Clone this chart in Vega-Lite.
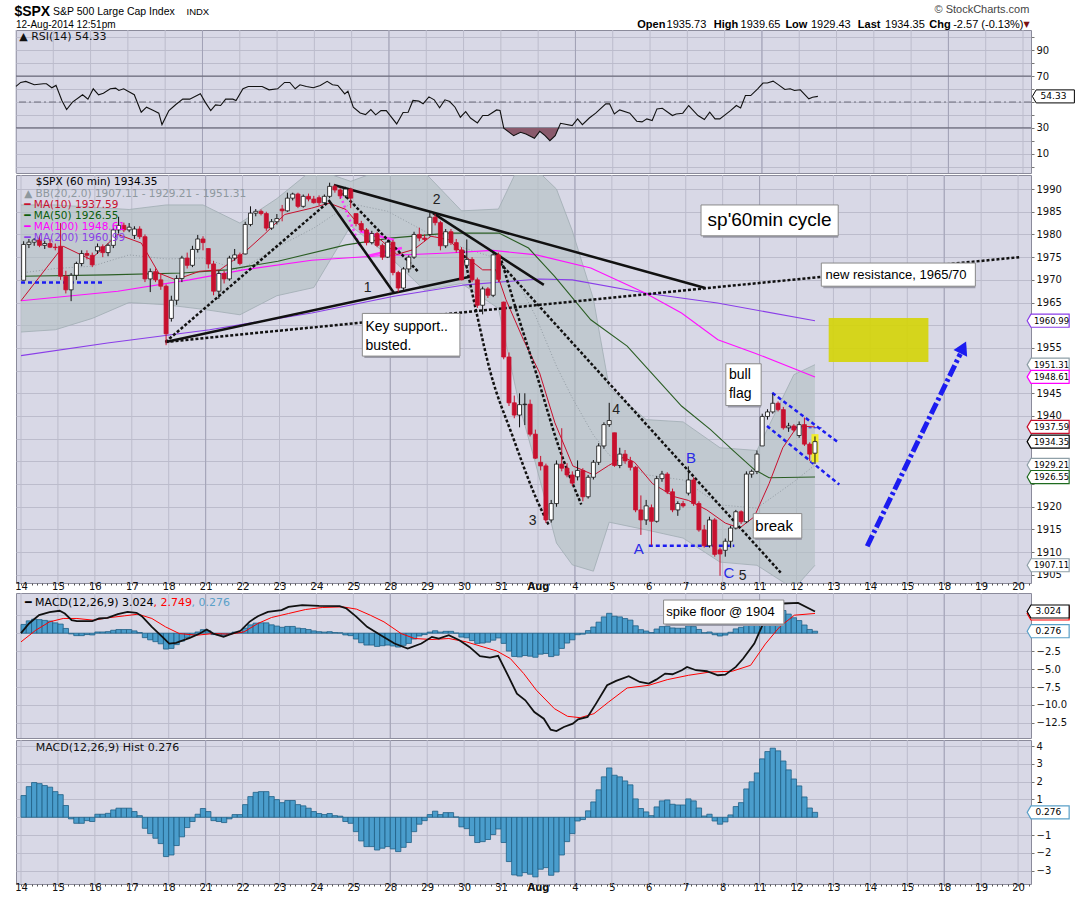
{
  "$schema": "https://vega.github.io/schema/vega-lite/v6.json",
  "padding": {"left": 13, "top": 3, "right": 0, "bottom": 0},
  "background": "white",
  "spacing": 0,
  "resolve": {"scale": {"color": "independent", "stroke": "independent"}},
  "config": {
    "view": {"stroke": "#8b8b9b", "fill": "#d8d8e6"},
    "axis": {"labelFont": "DejaVu Sans", "labelFontSize": 10, "labelColor": "#111111", "gridColor": "#bcbccc", "tickColor": "#777777", "domain": false},
    "text": {"font": "Liberation Sans"}
  },
  "datasets": {
    "days": [{"b":0},{"b":7},{"b":14},{"b":21},{"b":28},{"b":35},{"b":42},{"b":49},{"b":56},{"b":63},{"b":70},{"b":77},{"b":84},{"b":91},{"b":98},{"b":105},{"b":112},{"b":119},{"b":126},{"b":133},{"b":140},{"b":147},{"b":154},{"b":161},{"b":168},{"b":175},{"b":182},{"b":189}],
    "weeks": [{"b":35},{"b":70},{"b":105},{"b":140},{"b":175}],
    "candles": [
      {"b":0.5,"o":1969.9,"h":1978.5,"l":1969.9,"c":1977.8},{"b":1.5,"o":1977.8,"h":1979.0,"l":1977.0,"c":1978.3},{"b":2.5,"o":1978.3,"h":1979.2,"l":1977.5,"c":1978.8},{"b":3.5,"o":1978.8,"h":1979.8,"l":1977.2,"c":1977.6},{"b":4.5,"o":1977.6,"h":1978.6,"l":1976.8,"c":1978.0},{"b":5.5,"o":1978.0,"h":1979.0,"l":1977.0,"c":1977.2},{"b":6.5,"o":1977.2,"h":1978.0,"l":1976.5,"c":1977.1},
      {"b":7.5,"o":1977.4,"h":1982.5,"l":1970.0,"c":1970.8},{"b":8.5,"o":1970.8,"h":1972.0,"l":1967.0,"c":1967.8},{"b":9.5,"o":1967.8,"h":1971.5,"l":1965.3,"c":1971.0},{"b":10.5,"o":1971.0,"h":1974.0,"l":1970.0,"c":1973.6},{"b":11.5,"o":1973.6,"h":1976.5,"l":1973.0,"c":1975.8},{"b":12.5,"o":1975.8,"h":1976.5,"l":1974.5,"c":1975.4},{"b":13.5,"o":1975.4,"h":1976.0,"l":1972.8,"c":1973.3},
      {"b":14.5,"o":1976.4,"h":1978.0,"l":1975.7,"c":1977.3},{"b":15.5,"o":1977.3,"h":1977.8,"l":1975.0,"c":1976.0},{"b":16.5,"o":1976.0,"h":1978.0,"l":1975.2,"c":1977.6},{"b":17.5,"o":1977.6,"h":1981.5,"l":1977.0,"c":1981.0},{"b":18.5,"o":1981.0,"h":1983.9,"l":1980.2,"c":1982.0},{"b":19.5,"o":1982.0,"h":1982.6,"l":1980.5,"c":1981.0},{"b":20.5,"o":1981.0,"h":1982.5,"l":1980.5,"c":1981.6},
      {"b":21.5,"o":1979.8,"h":1981.8,"l":1979.0,"c":1981.2},{"b":22.5,"o":1981.2,"h":1981.8,"l":1979.0,"c":1979.5},{"b":23.5,"o":1979.5,"h":1980.0,"l":1969.5,"c":1970.2},{"b":24.5,"o":1970.2,"h":1972.5,"l":1967.3,"c":1971.8},{"b":25.5,"o":1971.8,"h":1972.5,"l":1969.5,"c":1970.0},{"b":26.5,"o":1970.0,"h":1971.5,"l":1967.8,"c":1968.6},{"b":27.5,"o":1968.6,"h":1969.0,"l":1955.6,"c":1958.1},
      {"b":28.5,"o":1961.5,"h":1966.5,"l":1960.8,"c":1965.5},{"b":29.5,"o":1965.5,"h":1971.0,"l":1964.5,"c":1970.3},{"b":30.5,"o":1970.3,"h":1975.3,"l":1969.5,"c":1974.8},{"b":31.5,"o":1974.8,"h":1976.0,"l":1972.5,"c":1973.2},{"b":32.5,"o":1973.2,"h":1977.5,"l":1972.8,"c":1976.7},{"b":33.5,"o":1976.7,"h":1979.9,"l":1976.0,"c":1979.0},{"b":34.5,"o":1979.0,"h":1979.6,"l":1976.5,"c":1978.2},
      {"b":35.5,"o":1976.9,"h":1976.9,"l":1972.5,"c":1973.5},{"b":36.5,"o":1973.5,"h":1974.2,"l":1966.6,"c":1967.5},{"b":37.5,"o":1967.5,"h":1972.0,"l":1965.8,"c":1971.4},{"b":38.5,"o":1971.4,"h":1972.0,"l":1969.2,"c":1970.2},{"b":39.5,"o":1970.2,"h":1975.3,"l":1969.8,"c":1974.8},{"b":40.5,"o":1974.8,"h":1976.8,"l":1974.2,"c":1975.5},{"b":41.5,"o":1975.5,"h":1976.0,"l":1973.2,"c":1973.6},
      {"b":42.5,"o":1975.7,"h":1982.8,"l":1975.6,"c":1982.2},{"b":43.5,"o":1982.2,"h":1986.2,"l":1981.8,"c":1984.7},{"b":44.5,"o":1984.7,"h":1985.6,"l":1984.0,"c":1985.1},{"b":45.5,"o":1985.1,"h":1985.5,"l":1984.2,"c":1984.6},{"b":46.5,"o":1984.6,"h":1985.0,"l":1980.8,"c":1981.4},{"b":47.5,"o":1981.4,"h":1983.4,"l":1981.0,"c":1982.8},{"b":48.5,"o":1982.8,"h":1984.5,"l":1982.2,"c":1983.5},
      {"b":49.5,"o":1985.6,"h":1986.5,"l":1982.9,"c":1985.2},{"b":50.5,"o":1985.2,"h":1989.2,"l":1985.0,"c":1988.0},{"b":51.5,"o":1988.0,"h":1989.2,"l":1987.5,"c":1988.9},{"b":52.5,"o":1988.9,"h":1989.2,"l":1985.8,"c":1986.2},{"b":53.5,"o":1986.2,"h":1988.8,"l":1985.9,"c":1988.4},{"b":54.5,"o":1988.4,"h":1989.0,"l":1987.3,"c":1987.8},{"b":55.5,"o":1987.8,"h":1988.5,"l":1986.8,"c":1987.0},
      {"b":56.5,"o":1988.1,"h":1988.6,"l":1986.4,"c":1987.0},{"b":57.5,"o":1987.0,"h":1988.8,"l":1986.5,"c":1988.4},{"b":58.5,"o":1988.4,"h":1991.4,"l":1988.0,"c":1990.6},{"b":59.5,"o":1990.6,"h":1991.0,"l":1989.2,"c":1989.8},{"b":60.5,"o":1989.8,"h":1990.2,"l":1987.8,"c":1988.5},{"b":61.5,"o":1988.5,"h":1990.5,"l":1988.0,"c":1990.0},{"b":62.5,"o":1990.0,"h":1990.3,"l":1985.8,"c":1988.0},
      {"b":63.5,"o":1984.6,"h":1984.6,"l":1981.8,"c":1982.4},{"b":64.5,"o":1982.4,"h":1983.0,"l":1980.6,"c":1981.0},{"b":65.5,"o":1981.0,"h":1981.4,"l":1977.6,"c":1978.2},{"b":66.5,"o":1978.2,"h":1980.8,"l":1977.8,"c":1980.2},{"b":67.5,"o":1980.2,"h":1980.6,"l":1977.2,"c":1977.6},{"b":68.5,"o":1977.6,"h":1978.0,"l":1974.4,"c":1975.0},{"b":69.5,"o":1975.0,"h":1978.8,"l":1974.8,"c":1978.3},
      {"b":70.5,"o":1978.3,"h":1978.8,"l":1971.0,"c":1971.6},{"b":71.5,"o":1971.6,"h":1972.0,"l":1967.3,"c":1968.2},{"b":72.5,"o":1968.2,"h":1972.8,"l":1967.8,"c":1972.4},{"b":73.5,"o":1972.4,"h":1975.4,"l":1971.6,"c":1975.0},{"b":74.5,"o":1975.0,"h":1980.6,"l":1974.6,"c":1980.0},{"b":75.5,"o":1980.0,"h":1981.5,"l":1978.5,"c":1979.2},{"b":76.5,"o":1979.2,"h":1980.0,"l":1978.4,"c":1978.9},
      {"b":77.5,"o":1980.0,"h":1984.8,"l":1979.6,"c":1983.8},{"b":78.5,"o":1983.8,"h":1984.5,"l":1982.0,"c":1982.6},{"b":79.5,"o":1982.6,"h":1983.0,"l":1976.5,"c":1977.5},{"b":80.5,"o":1977.5,"h":1981.2,"l":1977.0,"c":1980.6},{"b":81.5,"o":1980.6,"h":1981.2,"l":1977.7,"c":1978.2},{"b":82.5,"o":1978.2,"h":1979.0,"l":1976.0,"c":1976.6},{"b":83.5,"o":1976.6,"h":1977.2,"l":1969.9,"c":1970.0},
      {"b":84.5,"o":1973.2,"h":1978.9,"l":1972.4,"c":1974.5},{"b":85.5,"o":1974.5,"h":1975.0,"l":1969.5,"c":1970.0},{"b":86.5,"o":1970.0,"h":1970.5,"l":1963.8,"c":1964.4},{"b":87.5,"o":1964.4,"h":1968.5,"l":1962.4,"c":1968.0},{"b":88.5,"o":1968.0,"h":1968.4,"l":1966.0,"c":1966.6},{"b":89.5,"o":1966.6,"h":1976.0,"l":1966.2,"c":1975.5},{"b":90.5,"o":1975.5,"h":1976.0,"l":1969.5,"c":1970.1},
      {"b":91.5,"o":1965.1,"h":1965.2,"l":1952.5,"c":1953.0},{"b":92.5,"o":1953.0,"h":1954.0,"l":1942.2,"c":1942.9},{"b":93.5,"o":1942.9,"h":1944.5,"l":1939.5,"c":1940.2},{"b":94.5,"o":1940.2,"h":1945.0,"l":1937.5,"c":1942.5},{"b":95.5,"o":1942.5,"h":1945.0,"l":1938.0,"c":1942.6},{"b":96.5,"o":1942.6,"h":1943.6,"l":1935.5,"c":1936.0},{"b":97.5,"o":1936.0,"h":1937.0,"l":1930.5,"c":1930.7},
      {"b":98.5,"o":1929.8,"h":1931.2,"l":1928.0,"c":1929.0},{"b":99.5,"o":1929.0,"h":1929.5,"l":1916.4,"c":1917.1},{"b":100.5,"o":1917.1,"h":1921.5,"l":1916.5,"c":1920.7},{"b":101.5,"o":1920.7,"h":1930.2,"l":1920.0,"c":1929.4},{"b":102.5,"o":1929.4,"h":1937.3,"l":1927.8,"c":1928.5},{"b":103.5,"o":1928.5,"h":1929.6,"l":1926.5,"c":1927.0},{"b":104.5,"o":1927.0,"h":1927.8,"l":1924.6,"c":1925.2},
      {"b":105.5,"o":1926.6,"h":1930.2,"l":1925.8,"c":1928.0},{"b":106.5,"o":1928.0,"h":1928.5,"l":1921.2,"c":1922.2},{"b":107.5,"o":1922.2,"h":1927.0,"l":1921.8,"c":1926.5},{"b":108.5,"o":1926.5,"h":1930.3,"l":1926.0,"c":1929.8},{"b":109.5,"o":1929.8,"h":1934.0,"l":1929.2,"c":1933.4},{"b":110.5,"o":1933.4,"h":1938.6,"l":1932.8,"c":1938.1},{"b":111.5,"o":1938.1,"h":1942.9,"l":1937.6,"c":1939.0},
      {"b":112.5,"o":1936.3,"h":1936.3,"l":1928.8,"c":1929.1},{"b":113.5,"o":1929.1,"h":1933.0,"l":1928.5,"c":1931.6},{"b":114.5,"o":1931.6,"h":1932.5,"l":1929.5,"c":1930.1},{"b":115.5,"o":1930.1,"h":1931.0,"l":1928.0,"c":1928.7},{"b":116.5,"o":1928.7,"h":1929.0,"l":1918.8,"c":1919.3},{"b":117.5,"o":1919.3,"h":1922.5,"l":1913.8,"c":1917.1},{"b":118.5,"o":1917.1,"h":1921.5,"l":1916.0,"c":1920.2},
      {"b":119.5,"o":1919.8,"h":1920.5,"l":1911.5,"c":1916.8},{"b":120.5,"o":1916.8,"h":1926.8,"l":1916.5,"c":1926.2},{"b":121.5,"o":1926.2,"h":1927.9,"l":1925.5,"c":1927.2},{"b":122.5,"o":1927.2,"h":1927.6,"l":1922.8,"c":1923.3},{"b":123.5,"o":1923.3,"h":1924.0,"l":1918.8,"c":1919.3},{"b":124.5,"o":1919.3,"h":1921.2,"l":1918.0,"c":1920.7},{"b":125.5,"o":1920.7,"h":1921.3,"l":1919.8,"c":1920.2},
      {"b":126.5,"o":1923.0,"h":1928.9,"l":1922.5,"c":1925.9},{"b":127.5,"o":1925.9,"h":1926.5,"l":1920.2,"c":1920.7},{"b":128.5,"o":1920.7,"h":1921.2,"l":1914.5,"c":1914.9},{"b":129.5,"o":1914.9,"h":1916.0,"l":1911.0,"c":1911.4},{"b":130.5,"o":1911.4,"h":1917.8,"l":1911.0,"c":1917.1},{"b":131.5,"o":1917.1,"h":1917.5,"l":1909.0,"c":1909.5},{"b":132.5,"o":1910.5,"h":1911.0,"l":1904.8,"c":1909.6},
      {"b":133.5,"o":1910.4,"h":1913.0,"l":1909.0,"c":1912.4},{"b":134.5,"o":1912.4,"h":1915.8,"l":1911.0,"c":1915.3},{"b":135.5,"o":1915.3,"h":1919.3,"l":1915.0,"c":1918.9},{"b":136.5,"o":1918.9,"h":1919.2,"l":1916.2,"c":1916.7},{"b":137.5,"o":1916.7,"h":1927.8,"l":1916.4,"c":1927.2},{"b":138.5,"o":1927.2,"h":1928.2,"l":1926.4,"c":1927.8},{"b":139.5,"o":1927.8,"h":1932.4,"l":1927.2,"c":1931.6},
      {"b":140.5,"o":1933.4,"h":1940.5,"l":1933.4,"c":1939.9},{"b":141.5,"o":1939.9,"h":1941.5,"l":1939.2,"c":1940.9},{"b":142.5,"o":1940.9,"h":1944.9,"l":1940.5,"c":1942.8},{"b":143.5,"o":1942.8,"h":1943.2,"l":1941.0,"c":1941.4},{"b":144.5,"o":1941.4,"h":1942.0,"l":1937.0,"c":1937.4},{"b":145.5,"o":1937.4,"h":1938.5,"l":1936.5,"c":1937.8},{"b":146.5,"o":1937.8,"h":1938.2,"l":1936.5,"c":1936.9},
      {"b":147.5,"o":1935.7,"h":1938.8,"l":1935.2,"c":1938.1},{"b":148.5,"o":1938.1,"h":1939.65,"l":1933.4,"c":1933.8},{"b":149.5,"o":1933.8,"h":1934.2,"l":1930.1,"c":1931.6},{"b":150.5,"o":1931.8,"h":1935.5,"l":1929.43,"c":1934.35}
    ],
    "bb": [
      {"b":0,"lo":1958.5,"mid":1971.5,"hi":1986.5},{"b":6.5,"lo":1959.0,"mid":1972.5,"hi":1986.5},{"b":13.5,"lo":1961.5,"mid":1973.0,"hi":1986.0},{"b":20.5,"lo":1965.0,"mid":1975.5,"hi":1985.5},{"b":27.5,"lo":1964.5,"mid":1974.6,"hi":1986.5},{"b":34.5,"lo":1963.5,"mid":1974.8,"hi":1986.5},{"b":41.5,"lo":1962.3,"mid":1972.1,"hi":1982.5},{"b":48.5,"lo":1966.5,"mid":1977.2,"hi":1987.9},{"b":55.5,"lo":1968.3,"mid":1981.4,"hi":1994.5},{"b":62.5,"lo":1981.9,"mid":1986.8,"hi":1991.7},{"b":69.5,"lo":1975.5,"mid":1985.1,"hi":1994.7},{"b":76.5,"lo":1967.7,"mid":1980.7,"hi":1993.7},{"b":83.5,"lo":1969.2,"mid":1977.2,"hi":1985.2},{"b":90.5,"lo":1963.7,"mid":1974.6,"hi":1985.6},{"b":94.5,"lo":1942.2,"mid":1968.8,"hi":1995.4},{"b":97.5,"lo":1929.7,"mid":1962.1,"hi":1994.5},{"b":101.5,"lo":1912.0,"mid":1951.0,"hi":1990.0},{"b":104.5,"lo":1907.2,"mid":1944.0,"hi":1980.8},{"b":108.5,"lo":1905.8,"mid":1935.8,"hi":1965.8},{"b":111.5,"lo":1916.6,"mid":1931.4,"hi":1946.2},{"b":118.5,"lo":1914.9,"mid":1927.05,"hi":1939.2},{"b":125.5,"lo":1913.1,"mid":1925.9,"hi":1938.7},{"b":132.5,"lo":1907.8,"mid":1920.4,"hi":1933.0},{"b":139.5,"lo":1907.1,"mid":1919.7,"hi":1932.4},{"b":146.5,"lo":1901.9,"mid":1925.5,"hi":1949.1},{"b":150.5,"lo":1907.11,"mid":1929.21,"hi":1951.31}
    ],
    "ma10": [{"b":0,"v":1965.4},{"b":8.0,"v":1977.4},{"b":13.2,"v":1974.5},{"b":18.35,"v":1980.0},{"b":22.8,"v":1978.1},{"b":26.1,"v":1971.5},{"b":29.3,"v":1970.0},{"b":33.9,"v":1971.9},{"b":37.7,"v":1972.2},{"b":42.2,"v":1975.9},{"b":46.1,"v":1980.0},{"b":50.0,"v":1984.4},{"b":55.1,"v":1985.8},{"b":58.4,"v":1986.9},{"b":61.6,"v":1985.5},{"b":64.8,"v":1981.1},{"b":68.1,"v":1978.9},{"b":71.25,"v":1975.6},{"b":74.5,"v":1976.7},{"b":77.7,"v":1979.6},{"b":81.0,"v":1978.9},{"b":84.2,"v":1975.2},{"b":87.5,"v":1972.2},{"b":90.0,"v":1972.2},{"b":91.9,"v":1965.7},{"b":95.2,"v":1956.9},{"b":98.3,"v":1949.5},{"b":101.2,"v":1938.5},{"b":104.6,"v":1929.0},{"b":108.6,"v":1927.0},{"b":111.4,"v":1929.1},{"b":114.2,"v":1930.9},{"b":116.3,"v":1929.8},{"b":119.7,"v":1925.1},{"b":123.9,"v":1922.2},{"b":126.5,"v":1921.4},{"b":130.0,"v":1919.3},{"b":133.5,"v":1916.4},{"b":136.2,"v":1915.3},{"b":139.0,"v":1917.8},{"b":141.8,"v":1925.1},{"b":144.4,"v":1933.0},{"b":147.2,"v":1937.8},{"b":150.5,"v":1937.59}],
    "ma50": [{"b":0,"v":1970.8},{"b":16.4,"v":1971.1},{"b":30.6,"v":1971.5},{"b":39.0,"v":1972.2},{"b":48.7,"v":1974.1},{"b":61.6,"v":1977.7},{"b":70.0,"v":1979.2},{"b":81.0,"v":1980.3},{"b":90.6,"v":1980.3},{"b":96.2,"v":1977.0},{"b":101.1,"v":1970.8},{"b":108.0,"v":1961.2},{"b":114.9,"v":1955.4},{"b":125.2,"v":1942.2},{"b":130.7,"v":1937.0},{"b":134.8,"v":1932.6},{"b":139.0,"v":1928.2},{"b":141.8,"v":1926.4},{"b":150.5,"v":1926.55}],
    "ma100": [{"b":0,"v":1965.4},{"b":18.35,"v":1967.5},{"b":31.9,"v":1970.0},{"b":42.2,"v":1972.2},{"b":55.1,"v":1974.3},{"b":68.1,"v":1975.3},{"b":81.0,"v":1975.9},{"b":89.35,"v":1976.5},{"b":97.7,"v":1975.5},{"b":108.0,"v":1972.6},{"b":118.3,"v":1967.1},{"b":125.2,"v":1962.7},{"b":132.1,"v":1956.8},{"b":139.0,"v":1953.9},{"b":150.5,"v":1948.61}],
    "ma200": [{"b":0,"v":1953.3},{"b":16.4,"v":1956.1},{"b":35.75,"v":1959.0},{"b":55.1,"v":1962.7},{"b":70.7,"v":1966.4},{"b":84.3,"v":1968.9},{"b":98.3,"v":1970.2},{"b":104.5,"v":1970.0},{"b":118.3,"v":1967.1},{"b":132.0,"v":1964.9},{"b":150.5,"v":1960.99}],
    "rsi": [{"b":0,"v":62.0},{"b":0.88,"v":65.1},{"b":1.84,"v":65.9},{"b":3.43,"v":63.3},{"b":5.13,"v":64.1},{"b":5.72,"v":64.1},{"b":6.72,"v":61.0},{"b":7.51,"v":62.8},{"b":8.61,"v":51.2},{"b":9.5,"v":44.2},{"b":10.6,"v":49.9},{"b":12.5,"v":55.6},{"b":13.5,"v":52.2},{"b":14.5,"v":60.2},{"b":15.5,"v":55.6},{"b":16.4,"v":56.8},{"b":17.7,"v":60.2},{"b":18.7,"v":60.7},{"b":19.3,"v":58.9},{"b":20.2,"v":60.2},{"b":22.2,"v":55.6},{"b":23.5,"v":42.1},{"b":24.5,"v":46.0},{"b":25.8,"v":43.4},{"b":26.8,"v":41.4},{"b":27.4,"v":32.6},{"b":28.7,"v":43.4},{"b":30.0,"v":48.1},{"b":31.3,"v":52.2},{"b":32.6,"v":52.2},{"b":34.6,"v":56.3},{"b":35.5,"v":49.9},{"b":36.55,"v":43.4},{"b":37.45,"v":47.8},{"b":38.4,"v":47.3},{"b":39.35,"v":52.2},{"b":40.7,"v":52.2},{"b":41.3,"v":51.2},{"b":42.6,"v":60.2},{"b":43.6,"v":62.0},{"b":46.2,"v":62.0},{"b":47.5,"v":59.4},{"b":49.1,"v":60.2},{"b":50.4,"v":65.1},{"b":51.4,"v":65.1},{"b":52.4,"v":60.2},{"b":53.3,"v":63.3},{"b":54.5,"v":62.0},{"b":55.8,"v":61.0},{"b":57.1,"v":62.8},{"b":58.4,"v":65.9},{"b":59.4,"v":63.3},{"b":60.4,"v":62.8},{"b":61.7,"v":56.3},{"b":62.3,"v":58.4},{"b":63.3,"v":46.0},{"b":64.6,"v":41.6},{"b":65.6,"v":40.3},{"b":66.6,"v":44.2},{"b":67.5,"v":40.1},{"b":68.5,"v":43.4},{"b":69.5,"v":43.4},{"b":71.45,"v":33.1},{"b":72.65,"v":41.9},{"b":73.6,"v":42.1},{"b":74.5,"v":51.2},{"b":75.6,"v":50.7},{"b":76.4,"v":48.6},{"b":77.5,"v":54.0},{"b":78.5,"v":51.7},{"b":79.5,"v":45.5},{"b":80.5,"v":51.7},{"b":81.4,"v":50.4},{"b":82.4,"v":46.0},{"b":83.4,"v":38.3},{"b":84.4,"v":42.6},{"b":85.3,"v":37.7},{"b":86.6,"v":33.9},{"b":87.6,"v":39.6},{"b":88.6,"v":39.6},{"b":90.2,"v":43.9},{"b":90.85,"v":43.4},{"b":91.55,"v":29.8},{"b":93.4,"v":24.1},{"b":94.7,"v":26.7},{"b":95.7,"v":25.4},{"b":97.3,"v":22.0},{"b":98.3,"v":27.4},{"b":99.3,"v":24.1},{"b":100.2,"v":20.2},{"b":101.2,"v":24.1},{"b":102.2,"v":33.6},{"b":104.4,"v":31.8},{"b":105.4,"v":37.0},{"b":106.3,"v":32.6},{"b":107.6,"v":37.7},{"b":108.8,"v":41.4},{"b":110.7,"v":48.6},{"b":111.4,"v":48.6},{"b":112.3,"v":40.8},{"b":113.3,"v":43.9},{"b":115.2,"v":41.4},{"b":116.5,"v":35.2},{"b":117.5,"v":34.7},{"b":118.4,"v":37.0},{"b":119.4,"v":35.7},{"b":120.3,"v":44.7},{"b":121.3,"v":45.2},{"b":123.2,"v":39.6},{"b":123.9,"v":40.8},{"b":125.15,"v":41.4},{"b":126.25,"v":47.3},{"b":128.0,"v":39.6},{"b":129.2,"v":36.5},{"b":130.2,"v":42.1},{"b":131.2,"v":37.0},{"b":132.1,"v":37.0},{"b":134.1,"v":43.4},{"b":135.2,"v":47.3},{"b":136.0,"v":45.5},{"b":136.9,"v":55.0},{"b":137.9,"v":55.0},{"b":139.2,"v":60.2},{"b":140.2,"v":64.6},{"b":141.0,"v":64.6},{"b":142.1,"v":66.1},{"b":143.0,"v":63.6},{"b":144.3,"v":59.7},{"b":145.3,"v":60.2},{"b":146.1,"v":58.9},{"b":147.2,"v":59.4},{"b":148.8,"v":52.5},{"b":149.5,"v":53.7},{"b":150.5,"v":54.33}],
    "rsilow": [{"b":91.45,"v":30},{"b":91.55,"v":29.8},{"b":93.4,"v":24.1},{"b":94.7,"v":26.7},{"b":95.7,"v":25.4},{"b":97.3,"v":22.0},{"b":98.3,"v":27.4},{"b":99.3,"v":24.1},{"b":100.2,"v":20.2},{"b":101.2,"v":24.1},{"b":101.85,"v":30}],
    "macd": [{"b":0,"v":0.0},{"b":1.53,"v":1.35},{"b":3.43,"v":2.51},{"b":5.42,"v":2.93},{"b":7.31,"v":3.12},{"b":8.31,"v":2.74},{"b":9.6,"v":1.81},{"b":10.6,"v":1.67},{"b":13.5,"v":1.67},{"b":14.8,"v":2.05},{"b":16.4,"v":2.14},{"b":18.35,"v":2.65},{"b":20.2,"v":2.98},{"b":21.9,"v":2.84},{"b":22.9,"v":2.37},{"b":24.8,"v":0.88},{"b":26.8,"v":-0.51},{"b":28.1,"v":-1.44},{"b":29.4,"v":-1.35},{"b":32.0,"v":-0.65},{"b":33.9,"v":-0.05},{"b":35.2,"v":0.51},{"b":36.45,"v":-0.05},{"b":38.4,"v":-0.51},{"b":40.0,"v":-0.05},{"b":41.6,"v":0.33},{"b":43.3,"v":1.58},{"b":44.9,"v":2.37},{"b":46.8,"v":2.98},{"b":49.4,"v":3.21},{"b":50.7,"v":3.67},{"b":53.3,"v":3.91},{"b":56.5,"v":3.81},{"b":60.4,"v":3.77},{"b":61.7,"v":3.44},{"b":63.6,"v":2.28},{"b":65.6,"v":0.88},{"b":68.2,"v":-0.28},{"b":70.8,"v":-1.44},{"b":73.3,"v":-2.14},{"b":75.9,"v":-1.44},{"b":77.9,"v":-0.51},{"b":79.2,"v":-0.74},{"b":81.1,"v":-0.28},{"b":83.1,"v":-0.98},{"b":85.0,"v":-1.91},{"b":87.0,"v":-3.21},{"b":88.9,"v":-3.40},{"b":90.45,"v":-3.16},{"b":92.45,"v":-6.09},{"b":94.0,"v":-8.42},{"b":95.6,"v":-9.35},{"b":97.3,"v":-10.98},{"b":99.1,"v":-11.91},{"b":100.4,"v":-13.44},{"b":101.5,"v":-13.63},{"b":102.9,"v":-13.07},{"b":104.6,"v":-12.6},{"b":105.6,"v":-12.0},{"b":107.4,"v":-11.67},{"b":109.0,"v":-9.81},{"b":111.1,"v":-7.26},{"b":112.8,"v":-6.65},{"b":115.2,"v":-6.0},{"b":117.3,"v":-6.79},{"b":119.0,"v":-7.02},{"b":120.4,"v":-6.47},{"b":122.1,"v":-5.63},{"b":123.5,"v":-5.72},{"b":125.25,"v":-5.16},{"b":126.25,"v":-4.70},{"b":127.95,"v":-5.16},{"b":130.0,"v":-5.30},{"b":132.1,"v":-5.86},{"b":133.5,"v":-5.77},{"b":135.5,"v":-4.70},{"b":136.9,"v":-3.53},{"b":139.0,"v":-1.44},{"b":140.4,"v":0.88},{"b":141.8,"v":3.21},{"b":144.5,"v":4.14},{"b":147.3,"v":4.23},{"b":150.5,"v":3.024}],
    "signal": [{"b":0,"v":-1.21},{"b":2.8,"v":0.42},{"b":5.42,"v":1.58},{"b":8.0,"v":2.05},{"b":10.6,"v":2.05},{"b":13.8,"v":1.81},{"b":16.4,"v":2.14},{"b":19.65,"v":2.42},{"b":22.2,"v":2.65},{"b":24.8,"v":2.05},{"b":27.4,"v":0.88},{"b":30.0,"v":-0.05},{"b":33.3,"v":-0.28},{"b":36.45,"v":-0.05},{"b":39.7,"v":-0.14},{"b":42.3,"v":0.19},{"b":44.9,"v":1.35},{"b":47.5,"v":2.19},{"b":50.7,"v":2.74},{"b":53.95,"v":3.30},{"b":57.1,"v":3.58},{"b":61.0,"v":3.67},{"b":63.6,"v":3.35},{"b":66.2,"v":2.51},{"b":68.8,"v":1.58},{"b":72.05,"v":-0.05},{"b":74.6,"v":-0.74},{"b":77.9,"v":-0.88},{"b":81.1,"v":-0.74},{"b":84.4,"v":-1.21},{"b":87.6,"v":-1.91},{"b":90.15,"v":-2.47},{"b":92.75,"v":-3.53},{"b":95.3,"v":-5.63},{"b":97.7,"v":-7.95},{"b":101.1,"v":-10.51},{"b":103.6,"v":-11.58},{"b":106.0,"v":-11.77},{"b":108.6,"v":-11.21},{"b":111.4,"v":-9.58},{"b":114.9,"v":-7.63},{"b":119.0,"v":-7.26},{"b":122.5,"v":-6.47},{"b":126.55,"v":-5.86},{"b":130.7,"v":-5.40},{"b":134.8,"v":-5.30},{"b":138.3,"v":-4.47},{"b":141.1,"v":-1.5},{"b":143.8,"v":0.88},{"b":146.6,"v":2.51},{"b":150.5,"v":2.749}],
    "hist": [
      {"b":0.5,"h":1.22},{"b":1.5,"h":1.72},{"b":2.5,"h":1.95},{"b":3.5,"h":1.89},{"b":4.5,"h":1.78},{"b":5.5,"h":1.69},{"b":6.5,"h":1.44},{"b":7.5,"h":1.27},{"b":8.5,"h":0.66},{"b":9.5,"h":-0.09},
      {"b":10.5,"h":-0.34},{"b":11.5,"h":-0.34},{"b":12.5,"h":-0.19},{"b":13.5,"h":-0.24},{"b":14.5,"h":0.17},{"b":15.5,"h":0.17},{"b":16.5,"h":0.22},{"b":17.5,"h":0.41},{"b":18.5,"h":0.51},{"b":19.5,"h":0.51},
      {"b":20.5,"h":0.51},{"b":21.5,"h":0.32},{"b":22.5,"h":0.09},{"b":23.5,"h":-0.62},{"b":24.5,"h":-0.92},{"b":25.5,"h":-1.18},{"b":26.5,"h":-1.48},{"b":27.5,"h":-2.21},{"b":28.5,"h":-2.12},{"b":29.5,"h":-1.59},
      {"b":30.5,"h":-1.10},{"b":31.5,"h":-0.58},{"b":32.5,"h":-0.24},{"b":33.5,"h":0.17},{"b":34.5,"h":0.49},{"b":35.5,"h":0.32},{"b":36.5,"h":-0.19},{"b":37.5,"h":-0.24},{"b":38.5,"h":-0.30},{"b":39.5,"h":-0.09},
      {"b":40.5,"h":0.15},{"b":41.5,"h":0.15},{"b":42.5,"h":0.71},{"b":43.5,"h":1.16},{"b":44.5,"h":1.40},{"b":45.5,"h":1.44},{"b":46.5,"h":1.44},{"b":47.5,"h":1.16},{"b":48.5,"h":0.99},{"b":49.5,"h":0.82},
      {"b":50.5,"h":0.94},{"b":51.5,"h":0.94},{"b":52.5,"h":0.71},{"b":53.5,"h":0.64},{"b":54.5,"h":0.51},{"b":55.5,"h":0.32},{"b":56.5,"h":0.21},{"b":57.5,"h":0.15},{"b":58.5,"h":0.21},{"b":59.5,"h":0.09},
      {"b":60.5,"h":0.06},{"b":61.5,"h":-0.24},{"b":62.5,"h":-0.34},{"b":63.5,"h":-0.81},{"b":64.5,"h":-1.33},{"b":65.5,"h":-1.65},{"b":66.5,"h":-1.65},{"b":67.5,"h":-1.84},{"b":68.5,"h":-1.74},{"b":69.5,"h":-1.65},
      {"b":70.5,"h":-1.78},{"b":71.5,"h":-1.93},{"b":72.5,"h":-1.69},{"b":73.5,"h":-1.42},{"b":74.5,"h":-0.81},{"b":75.5,"h":-0.39},{"b":76.5,"h":-0.19},{"b":77.5,"h":0.15},{"b":78.5,"h":0.34},{"b":79.5,"h":0.15},
      {"b":80.5,"h":0.26},{"b":81.5,"h":0.26},{"b":82.5,"h":0.02},{"b":83.5,"h":-0.54},{"b":84.5,"h":-0.64},{"b":85.5,"h":-1.03},{"b":86.5,"h":-1.42},{"b":87.5,"h":-1.37},{"b":88.5,"h":-1.25},{"b":89.5,"h":-0.97},
      {"b":90.5,"h":-0.66},{"b":91.5,"h":-1.42},{"b":92.5,"h":-2.49},{"b":93.5,"h":-3.24},{"b":94.5,"h":-3.30},{"b":95.5,"h":-3.11},{"b":96.5,"h":-3.20},{"b":97.5,"h":-3.35},{"b":98.5,"h":-2.92},{"b":99.5,"h":-2.83},
      {"b":100.5,"h":-3.26},{"b":101.5,"h":-3.07},{"b":102.5,"h":-2.12},{"b":103.5,"h":-1.37},{"b":104.5,"h":-0.92},{"b":105.5,"h":-0.21},{"b":106.5,"h":-0.13},{"b":107.5,"h":0.36},{"b":108.5,"h":0.86},{"b":109.5,"h":1.54},
      {"b":110.5,"h":2.27},{"b":111.5,"h":2.77},{"b":112.5,"h":2.36},{"b":113.5,"h":2.27},{"b":114.5,"h":2.04},{"b":115.5,"h":1.82},{"b":116.5,"h":1.03},{"b":117.5,"h":0.49},{"b":118.5,"h":0.30},{"b":119.5,"h":0.09},
      {"b":120.5,"h":0.58},{"b":121.5,"h":0.92},{"b":122.5,"h":0.97},{"b":123.5,"h":0.73},{"b":124.5,"h":0.69},{"b":125.5,"h":0.69},{"b":126.5,"h":1.03},{"b":127.5,"h":0.92},{"b":128.5,"h":0.52},{"b":129.5,"h":0.07},
      {"b":130.5,"h":0.17},{"b":131.5,"h":-0.21},{"b":132.5,"h":-0.39},{"b":133.5,"h":-0.26},{"b":134.5,"h":0.13},{"b":135.5,"h":0.60},{"b":136.5,"h":0.82},{"b":137.5,"h":1.59},{"b":138.5,"h":1.99},{"b":139.5,"h":2.49},
      {"b":140.5,"h":3.28},{"b":141.5,"h":3.69},{"b":142.5,"h":3.88},{"b":143.5,"h":3.73},{"b":144.5,"h":3.16},{"b":145.5,"h":2.66},{"b":146.5,"h":2.15},{"b":147.5,"h":1.76},{"b":148.5,"h":1.14},{"b":149.5,"h":0.52},{"b":150.5,"h":0.276}
    ],
    "solidLines": [{"b":27.4,"b2":85.5,"v":1956.3,"v2":1970.8},{"b":58.3,"b2":70.7,"v":1987.6,"v2":1967.1},{"b":59.3,"b2":129.7,"v":1990.9,"v2":1968.2},{"b":78.1,"b2":99.1,"v":1984.7,"v2":1968.9}],
    "dotLines": [{"b":27.4,"b2":58.0,"v":1956.3,"v2":1986.9},{"b":27.4,"b2":189.2,"v":1956.3,"v2":1975.0},{"b":61.0,"b2":75.2,"v":1989.1,"v2":1971.9},{"b":90.8,"b2":144.0,"v":1973.7,"v2":1905.5}],
    "dotCurves": [{"id":1,"b":83.8,"v":1976.5},{"id":1,"b":86.3,"v":1963.0},{"id":1,"b":88.9,"v":1950.0},{"id":1,"b":93.2,"v":1935.5},{"id":1,"b":97.6,"v":1922.0},{"id":1,"b":100.1,"v":1915.8},{"id":2,"b":90.8,"v":1975.3},{"id":2,"b":94.5,"v":1961.0},{"id":2,"b":97.9,"v":1948.5},{"id":2,"b":101.7,"v":1934.0},{"id":2,"b":106.2,"v":1920.5}],
    "pinkLines": [{"b":64.2,"b2":70.7,"v":1980.7,"v2":1978.8},{"b":65.5,"b2":72.2,"v":1975.2,"v2":1977.0}],
    "blueDash": [{"b":0,"b2":15.4,"v":1969.4,"v2":1969.4},{"b":119.0,"b2":135.2,"v":1911.4,"v2":1911.4},{"b":142.4,"b2":155.1,"v":1945.1,"v2":1934.0},{"b":141.4,"b2":155.1,"v":1937.8,"v2":1924.9}]
  },
  "vconcat": [
    {
      "width": 1015, "height": 143,
      "resolve": {"axis": {"x": "independent", "y": "independent"}},
      "layer": [
        {"data": {"name": "days"}, "mark": {"type": "rule", "color": "#bcbccc"}, "encoding": {"x": {"field": "b", "type": "quantitative", "scale": {"domain": [0, 190.5], "nice": false, "zero": false}, "axis": null}}},
        {"data": {"name": "weeks"}, "mark": {"type": "rule", "color": "#a2a2b6"}, "encoding": {"x": {"field": "b", "type": "quantitative", "scale": {"domain": [0, 190.5], "nice": false, "zero": false}, "axis": null}}},
        {"data": {"values": [{"v": 30}, {"v": 70}]}, "mark": {"type": "rule", "color": "#6c6c7c", "strokeWidth": 1.2},
         "encoding": {"y": {"field": "v", "type": "quantitative", "scale": {"domain": [-4.7, 105.5], "nice": false, "zero": false}, "axis": {"orient": "right", "title": null, "values": [0, 10, 20, 30, 40, 50, 60, 70, 80, 90, 100], "labelExpr": "indexof([10,30,70,90], datum.value) >= 0 ? datum.label : ''", "grid": true, "tickSize": 3, "labelPadding": 2}}}},
        {"data": {"values": [{"v": 50}]}, "mark": {"type": "rule", "color": "#6c6c7c", "strokeWidth": 1, "strokeDash": [7, 3, 2, 3]},
         "encoding": {"y": {"field": "v", "type": "quantitative", "scale": {"domain": [-4.7, 105.5], "nice": false, "zero": false}, "axis": null}}},
        {"data": {"name": "rsilow"}, "mark": {"type": "area", "color": "#8a5a6c"},
         "encoding": {"x": {"field": "b", "type": "quantitative", "scale": {"domain": [0, 190.5], "nice": false, "zero": false}, "axis": null}, "y": {"field": "v", "type": "quantitative", "scale": {"domain": [-4.7, 105.5], "nice": false, "zero": false}, "axis": null}, "y2": {"datum": 30}}},
        {"data": {"name": "rsi"}, "mark": {"type": "line", "color": "#111111", "strokeWidth": 1.1},
         "encoding": {"x": {"field": "b", "type": "quantitative", "scale": {"domain": [0, 190.5], "nice": false, "zero": false}, "axis": null}, "y": {"field": "v", "type": "quantitative", "scale": {"domain": [-4.7, 105.5], "nice": false, "zero": false}, "axis": null}}},
        {"data": {"values": [{"b": 0.6, "v": 100.3, "t": "▲ RSI(14) 54.33"}]}, "mark": {"type": "text", "font": "DejaVu Sans", "fontSize": 11, "align": "left", "baseline": "middle", "color": "#111111"},
         "encoding": {"x": {"field": "b", "type": "quantitative", "scale": {"domain": [0, 190.5], "nice": false, "zero": false}, "axis": null}, "y": {"field": "v", "type": "quantitative", "scale": {"domain": [-4.7, 105.5], "nice": false, "zero": false}, "axis": null}, "text": {"field": "t"}}},
        {"data": {"values": [{"b": -0.3, "v": 119.4, "t": "$SPX"}]},
         "mark": {"type": "text", "fontWeight": "bold", "fontSize": 14, "align": "left", "baseline": "middle", "color": "#000000", "clip": false},
         "encoding": {"x": {"field": "b", "type": "quantitative", "scale": {"domain": [0, 190.5], "nice": false, "zero": false}, "axis": null}, "y": {"field": "v", "type": "quantitative", "scale": {"domain": [-4.7, 105.5], "nice": false, "zero": false}, "axis": null}, "text": {"field": "t"}}},
        {"data": {"values": [{"b": 116.6, "v": 109.4, "t": "Open"}, {"b": 130.96, "v": 109.4, "t": "High"}, {"b": 144.4, "v": 109.4, "t": "Low"}, {"b": 158.0, "v": 109.4, "t": "Last"}, {"b": 171.4, "v": 109.4, "t": "Chg"}]},
         "mark": {"type": "text", "fontWeight": "bold", "fontSize": 11, "align": "left", "baseline": "middle", "color": "#000000", "clip": false},
         "encoding": {"x": {"field": "b", "type": "quantitative", "scale": {"domain": [0, 190.5], "nice": false, "zero": false}, "axis": null}, "y": {"field": "v", "type": "quantitative", "scale": {"domain": [-4.7, 105.5], "nice": false, "zero": false}, "axis": null}, "text": {"field": "t"}}},
        {"data": {"values": [{"b": 6.94, "v": 119.4, "t": "S&P 500 Large Cap Index", "s": 10.5}, {"b": 32.0, "v": 119.4, "t": "INDX", "s": 9.5}, {"b": 0, "v": 109.4, "t": "12-Aug-2014 12:51pm", "s": 10}, {"b": 122.1, "v": 109.4, "t": "1935.73", "s": 11}, {"b": 136.0, "v": 109.4, "t": "1939.65", "s": 11}, {"b": 149.2, "v": 109.4, "t": "1929.43", "s": 11}, {"b": 163.1, "v": 109.4, "t": "1934.35", "s": 11}, {"b": 175.9, "v": 109.4, "t": "-2.57 (-0.13%)", "s": 11}]},
         "mark": {"type": "text", "align": "left", "baseline": "middle", "color": "#000000", "clip": false},
         "encoding": {"x": {"field": "b", "type": "quantitative", "scale": {"domain": [0, 190.5], "nice": false, "zero": false}, "axis": null}, "y": {"field": "v", "type": "quantitative", "scale": {"domain": [-4.7, 105.5], "nice": false, "zero": false}, "axis": null}, "text": {"field": "t"}, "size": {"field": "s", "type": "quantitative", "scale": null}}},
        {"data": {"values": [{"b": 190.2, "v": 120.9, "t": "© StockCharts.com"}]}, "mark": {"type": "text", "align": "right", "baseline": "middle", "fontSize": 11, "color": "#444444", "clip": false},
         "encoding": {"x": {"field": "b", "type": "quantitative", "scale": {"domain": [0, 190.5], "nice": false, "zero": false}, "axis": null}, "y": {"field": "v", "type": "quantitative", "scale": {"domain": [-4.7, 105.5], "nice": false, "zero": false}, "axis": null}, "text": {"field": "t"}}},
        {"data": {"values": [{"b": 189.1, "v": 109.4, "t": "▼"}]}, "mark": {"type": "text", "align": "left", "baseline": "middle", "fontSize": 8, "font": "DejaVu Sans", "color": "#7a1010", "clip": false},
         "encoding": {"x": {"field": "b", "type": "quantitative", "scale": {"domain": [0, 190.5], "nice": false, "zero": false}, "axis": null}, "y": {"field": "v", "type": "quantitative", "scale": {"domain": [-4.7, 105.5], "nice": false, "zero": false}, "axis": null}, "text": {"field": "t"}}},
        {"data": {"values": [{"v": 54.33}]}, "mark": {"type": "point", "shape": "M-1,0L-0.82,-0.31L1,-0.31L1,0.31L-0.82,0.31Z", "size": 1764, "filled": true, "fill": "#ffffff", "stroke": "#000000", "strokeWidth": 1, "opacity": 1, "clip": false},
         "encoding": {"x": {"datum": 194.7, "type": "quantitative", "scale": {"domain": [0, 190.5], "nice": false, "zero": false}, "axis": null}, "y": {"field": "v", "type": "quantitative", "scale": {"domain": [-4.7, 105.5], "nice": false, "zero": false}, "axis": null}}},
        {"data": {"values": [{"v": 54.33, "t": "54.33"}]}, "mark": {"type": "text", "align": "left", "baseline": "middle", "font": "DejaVu Sans", "fontSize": 9, "color": "#000000", "clip": false},
         "encoding": {"x": {"datum": 192.3, "type": "quantitative", "scale": {"domain": [0, 190.5], "nice": false, "zero": false}, "axis": null}, "y": {"field": "v", "type": "quantitative", "scale": {"domain": [-4.7, 105.5], "nice": false, "zero": false}, "axis": null}, "text": {"field": "t"}}}
      ]
    },
    {
      "width": 1015, "height": 408,
      "resolve": {"axis": {"x": "independent", "y": "independent"}},
      "layer": [
        {"data": {"name": "days"}, "mark": {"type": "rule", "color": "#bcbccc"},
         "encoding": {"x": {"field": "b", "type": "quantitative", "scale": {"domain": [0, 190.5], "nice": false, "zero": false},
           "axis": {"orient": "bottom", "title": null, "tickCount": 191, "labelExpr": "datum.value % 7 === 0 ? ['14','15','16','17','18','21','22','23','24','25','28','29','30','31','Aug','4','5','6','7','8','11','12','13','14','15','18','19','20'][datum.value / 7] : ''", "labelOverlap": false, "labelFlush": false, "grid": false, "ticks": true, "tickSize": 2, "tickColor": "#555555", "labelPadding": -4, "labelFontWeight": {"condition": {"test": "datum.value == 98", "value": "bold"}, "value": "normal"}}}}},
        {"data": {"name": "weeks"}, "mark": {"type": "rule", "color": "#a2a2b6"}, "encoding": {"x": {"field": "b", "type": "quantitative", "scale": {"domain": [0, 190.5], "nice": false, "zero": false}, "axis": null}}},
        {"data": {"name": "bb"}, "mark": {"type": "area", "color": "#b2c0c2", "opacity": 0.6, "clip": true},
         "encoding": {"x": {"field": "b", "type": "quantitative", "scale": {"domain": [0, 190.5], "nice": false, "zero": false}, "axis": null},
           "y": {"field": "lo", "type": "quantitative", "scale": {"domain": [1903.2, 1993.1], "nice": false, "zero": false}, "axis": {"orient": "right", "title": null, "format": "d", "values": [1905, 1910, 1915, 1920, 1925, 1930, 1935, 1940, 1945, 1950, 1955, 1960, 1965, 1970, 1975, 1980, 1985, 1990], "labelExpr": "indexof([1925,1930,1935,1950,1960], datum.value) >= 0 ? '' : datum.label", "grid": true, "tickSize": 3, "labelPadding": 2}},
           "y2": {"field": "hi"}}},
        {"data": {"name": "bb"}, "mark": {"type": "line", "color": "#a0acb2", "strokeWidth": 0.8, "clip": true},
         "encoding": {"x": {"field": "b", "type": "quantitative", "scale": {"domain": [0, 190.5], "nice": false, "zero": false}, "axis": null}, "y": {"field": "hi", "type": "quantitative", "scale": {"domain": [1903.2, 1993.1], "nice": false, "zero": false}, "axis": null}}},
        {"data": {"name": "bb"}, "mark": {"type": "line", "color": "#a0acb2", "strokeWidth": 0.8, "clip": true},
         "encoding": {"x": {"field": "b", "type": "quantitative", "scale": {"domain": [0, 190.5], "nice": false, "zero": false}, "axis": null}, "y": {"field": "lo", "type": "quantitative", "scale": {"domain": [1903.2, 1993.1], "nice": false, "zero": false}, "axis": null}}},
        {"data": {"name": "bb"}, "mark": {"type": "line", "color": "#939ca4", "strokeWidth": 1, "strokeDash": [1, 2], "clip": true},
         "encoding": {"x": {"field": "b", "type": "quantitative", "scale": {"domain": [0, 190.5], "nice": false, "zero": false}, "axis": null}, "y": {"field": "mid", "type": "quantitative", "scale": {"domain": [1903.2, 1993.1], "nice": false, "zero": false}, "axis": null}}},
        {"data": {"values": [{"b": 153.1, "b2": 172.0, "v": 1951.9, "v2": 1961.6}]}, "mark": {"type": "rect", "color": "#d4d40c", "opacity": 0.93},
         "encoding": {"x": {"field": "b", "type": "quantitative", "scale": {"domain": [0, 190.5], "nice": false, "zero": false}, "axis": null}, "x2": {"field": "b2"}, "y": {"field": "v", "type": "quantitative", "scale": {"domain": [1903.2, 1993.1], "nice": false, "zero": false}, "axis": null}, "y2": {"field": "v2"}}},
        {"data": {"name": "ma200"}, "mark": {"type": "line", "color": "#8a3ee8", "strokeWidth": 1.1, "clip": true},
         "encoding": {"x": {"field": "b", "type": "quantitative", "scale": {"domain": [0, 190.5], "nice": false, "zero": false}, "axis": null}, "y": {"field": "v", "type": "quantitative", "scale": {"domain": [1903.2, 1993.1], "nice": false, "zero": false}, "axis": null}}},
        {"data": {"name": "ma100"}, "mark": {"type": "line", "color": "#ff10ff", "strokeWidth": 1.1, "clip": true},
         "encoding": {"x": {"field": "b", "type": "quantitative", "scale": {"domain": [0, 190.5], "nice": false, "zero": false}, "axis": null}, "y": {"field": "v", "type": "quantitative", "scale": {"domain": [1903.2, 1993.1], "nice": false, "zero": false}, "axis": null}}},
        {"data": {"name": "ma50"}, "mark": {"type": "line", "color": "#2b5e24", "strokeWidth": 1.1, "clip": true},
         "encoding": {"x": {"field": "b", "type": "quantitative", "scale": {"domain": [0, 190.5], "nice": false, "zero": false}, "axis": null}, "y": {"field": "v", "type": "quantitative", "scale": {"domain": [1903.2, 1993.1], "nice": false, "zero": false}, "axis": null}}},
        {"data": {"name": "ma10"}, "mark": {"type": "line", "color": "#c8102e", "strokeWidth": 1, "clip": true},
         "encoding": {"x": {"field": "b", "type": "quantitative", "scale": {"domain": [0, 190.5], "nice": false, "zero": false}, "axis": null}, "y": {"field": "v", "type": "quantitative", "scale": {"domain": [1903.2, 1993.1], "nice": false, "zero": false}, "axis": null}}},
        {"data": {"name": "pinkLines"}, "mark": {"type": "rule", "color": "#ff33ff", "strokeWidth": 2.5},
         "encoding": {"x": {"field": "b", "type": "quantitative", "scale": {"domain": [0, 190.5], "nice": false, "zero": false}, "axis": null}, "x2": {"field": "b2"}, "y": {"field": "v", "type": "quantitative", "scale": {"domain": [1903.2, 1993.1], "nice": false, "zero": false}, "axis": null}, "y2": {"field": "v2"}}},
        {"data": {"values": [{"b": 60.6, "b2": 64.2, "v": 1988.4, "v2": 1977.4}]}, "mark": {"type": "rule", "color": "#ff33ff", "strokeWidth": 2.5, "strokeDash": [2, 3]},
         "encoding": {"x": {"field": "b", "type": "quantitative", "scale": {"domain": [0, 190.5], "nice": false, "zero": false}, "axis": null}, "x2": {"field": "b2"}, "y": {"field": "v", "type": "quantitative", "scale": {"domain": [1903.2, 1993.1], "nice": false, "zero": false}, "axis": null}, "y2": {"field": "v2"}}},
        {"data": {"name": "solidLines"}, "mark": {"type": "rule", "color": "#111111", "strokeWidth": 2.5},
         "encoding": {"x": {"field": "b", "type": "quantitative", "scale": {"domain": [0, 190.5], "nice": false, "zero": false}, "axis": null}, "x2": {"field": "b2"}, "y": {"field": "v", "type": "quantitative", "scale": {"domain": [1903.2, 1993.1], "nice": false, "zero": false}, "axis": null}, "y2": {"field": "v2"}}},
        {"data": {"name": "dotLines"}, "mark": {"type": "rule", "color": "#111111", "strokeWidth": 2.5, "strokeDash": [3, 2]},
         "encoding": {"x": {"field": "b", "type": "quantitative", "scale": {"domain": [0, 190.5], "nice": false, "zero": false}, "axis": null}, "x2": {"field": "b2"}, "y": {"field": "v", "type": "quantitative", "scale": {"domain": [1903.2, 1993.1], "nice": false, "zero": false}, "axis": null}, "y2": {"field": "v2"}}},
        {"data": {"name": "dotCurves"}, "mark": {"type": "line", "color": "#111111", "strokeWidth": 2.5, "strokeDash": [3, 2], "interpolate": "monotone"},
         "encoding": {"x": {"field": "b", "type": "quantitative", "scale": {"domain": [0, 190.5], "nice": false, "zero": false}, "axis": null}, "y": {"field": "v", "type": "quantitative", "scale": {"domain": [1903.2, 1993.1], "nice": false, "zero": false}, "axis": null}, "detail": {"field": "id"}}},
        {"data": {"name": "blueDash"}, "mark": {"type": "rule", "color": "#1c1cf0", "strokeWidth": 2.5, "strokeDash": [4, 3]},
         "encoding": {"x": {"field": "b", "type": "quantitative", "scale": {"domain": [0, 190.5], "nice": false, "zero": false}, "axis": null}, "x2": {"field": "b2"}, "y": {"field": "v", "type": "quantitative", "scale": {"domain": [1903.2, 1993.1], "nice": false, "zero": false}, "axis": null}, "y2": {"field": "v2"}}},
        {"data": {"values": [{"b": 145.5, "b2": 152.0, "v": 1937.4, "v2": 1937.4}]}, "mark": {"type": "rule", "color": "#1c1cf0", "strokeWidth": 1, "strokeDash": [3, 2]},
         "encoding": {"x": {"field": "b", "type": "quantitative", "scale": {"domain": [0, 190.5], "nice": false, "zero": false}, "axis": null}, "x2": {"field": "b2"}, "y": {"field": "v", "type": "quantitative", "scale": {"domain": [1903.2, 1993.1], "nice": false, "zero": false}, "axis": null}, "y2": {"field": "v2"}}},
        {"data": {"values": [{"b": 160.4, "b2": 178.05, "v": 1911.3, "v2": 1953.7}]}, "mark": {"type": "rule", "color": "#1c1cf0", "strokeWidth": 5, "strokeDash": [12, 3, 3, 3]},
         "encoding": {"x": {"field": "b", "type": "quantitative", "scale": {"domain": [0, 190.5], "nice": false, "zero": false}, "axis": null}, "x2": {"field": "b2"}, "y": {"field": "v", "type": "quantitative", "scale": {"domain": [1903.2, 1993.1], "nice": false, "zero": false}, "axis": null}, "y2": {"field": "v2"}}},
        {"data": {"values": [{"b": 178.6, "v": 1955.1}]}, "mark": {"type": "point", "shape": "triangle-up", "filled": true, "color": "#1c1cf0", "size": 230, "angle": 26, "opacity": 1},
         "encoding": {"x": {"field": "b", "type": "quantitative", "scale": {"domain": [0, 190.5], "nice": false, "zero": false}, "axis": null}, "y": {"field": "v", "type": "quantitative", "scale": {"domain": [1903.2, 1993.1], "nice": false, "zero": false}, "axis": null}}},
        {"data": {"values": [{"b": 150.5, "v": 1929.8, "v2": 1936.0}]}, "mark": {"type": "bar", "size": 7, "color": "#f2ee2a"},
         "encoding": {"x": {"field": "b", "type": "quantitative", "scale": {"domain": [0, 190.5], "nice": false, "zero": false}, "axis": null}, "y": {"field": "v", "type": "quantitative", "scale": {"domain": [1903.2, 1993.1], "nice": false, "zero": false}, "axis": null}, "y2": {"field": "v2"}}},
        {"data": {"name": "candles"}, "mark": {"type": "rule", "strokeWidth": 1},
         "encoding": {"x": {"field": "b", "type": "quantitative", "scale": {"domain": [0, 190.5], "nice": false, "zero": false}, "axis": null}, "y": {"field": "l", "type": "quantitative", "scale": {"domain": [1903.2, 1993.1], "nice": false, "zero": false}, "axis": null}, "y2": {"field": "h"},
           "color": {"condition": {"test": "datum.c < datum.o", "value": "#c8102e"}, "value": "#111111"}}},
        {"data": {"name": "candles"}, "mark": {"type": "bar", "size": 4, "strokeWidth": 0.8},
         "encoding": {"x": {"field": "b", "type": "quantitative", "scale": {"domain": [0, 190.5], "nice": false, "zero": false}, "axis": null}, "y": {"field": "o", "type": "quantitative", "scale": {"domain": [1903.2, 1993.1], "nice": false, "zero": false}, "axis": null}, "y2": {"field": "c"},
           "fill": {"condition": {"test": "datum.c < datum.o", "value": "#c8102e"}, "value": "#ffffff"},
           "stroke": {"condition": {"test": "datum.c < datum.o", "value": "#c8102e"}, "value": "#111111"}}},
        {"data": {"values": [{"b": 128.9, "b2": 154.9, "v": 1979.7, "v2": 1986.5}, {"b": 151.7, "b2": 180.9, "v": 1968.6, "v2": 1973.7}, {"b": 64.7, "b2": 83.2, "v": 1953.2, "v2": 1962.6}, {"b": 133.6, "b2": 140.3, "v": 1942.3, "v2": 1951.5}, {"b": 138.8, "b2": 148.0, "v": 1913.1, "v2": 1918.5}]},
         "mark": {"type": "rect", "color": "#9a9aa8", "xOffset": 2, "yOffset": 2},
         "encoding": {"x": {"field": "b", "type": "quantitative", "scale": {"domain": [0, 190.5], "nice": false, "zero": false}, "axis": null}, "x2": {"field": "b2"}, "y": {"field": "v", "type": "quantitative", "scale": {"domain": [1903.2, 1993.1], "nice": false, "zero": false}, "axis": null}, "y2": {"field": "v2"}}},
        {"data": {"values": [{"b": 128.9, "b2": 154.9, "v": 1979.7, "v2": 1986.5}, {"b": 151.7, "b2": 180.9, "v": 1968.6, "v2": 1973.7}, {"b": 64.7, "b2": 83.2, "v": 1953.2, "v2": 1962.6}, {"b": 133.6, "b2": 140.3, "v": 1942.3, "v2": 1951.5}, {"b": 138.8, "b2": 148.0, "v": 1913.1, "v2": 1918.5}]},
         "mark": {"type": "rect", "fill": "#ffffff", "stroke": "#8a8a8a", "strokeWidth": 1},
         "encoding": {"x": {"field": "b", "type": "quantitative", "scale": {"domain": [0, 190.5], "nice": false, "zero": false}, "axis": null}, "x2": {"field": "b2"}, "y": {"field": "v", "type": "quantitative", "scale": {"domain": [1903.2, 1993.1], "nice": false, "zero": false}, "axis": null}, "y2": {"field": "v2"}}},
        {"data": {"values": [{"b": 141.9, "v": 1983.1, "t": "sp'60min cycle"}]}, "mark": {"type": "text", "fontSize": 19, "align": "center", "baseline": "middle", "color": "#000000"},
         "encoding": {"x": {"field": "b", "type": "quantitative", "scale": {"domain": [0, 190.5], "nice": false, "zero": false}, "axis": null}, "y": {"field": "v", "type": "quantitative", "scale": {"domain": [1903.2, 1993.1], "nice": false, "zero": false}, "axis": null}, "text": {"field": "t"}}},
        {"data": {"values": [{"b": 152.5, "v": 1971.1, "t": "new resistance, 1965/70"}]}, "mark": {"type": "text", "fontSize": 13, "align": "left", "baseline": "middle", "color": "#000000"},
         "encoding": {"x": {"field": "b", "type": "quantitative", "scale": {"domain": [0, 190.5], "nice": false, "zero": false}, "axis": null}, "y": {"field": "v", "type": "quantitative", "scale": {"domain": [1903.2, 1993.1], "nice": false, "zero": false}, "axis": null}, "text": {"field": "t"}}},
        {"data": {"values": [{"b": 65.3, "v": 1959.6, "t": "Key support.."}, {"b": 65.3, "v": 1955.4, "t": "busted."}, {"b": 134.2, "v": 1949.0, "t": "bull"}, {"b": 134.2, "v": 1944.9, "t": "flag"}]}, "mark": {"type": "text", "fontSize": 14, "align": "left", "baseline": "middle", "color": "#000000"},
         "encoding": {"x": {"field": "b", "type": "quantitative", "scale": {"domain": [0, 190.5], "nice": false, "zero": false}, "axis": null}, "y": {"field": "v", "type": "quantitative", "scale": {"domain": [1903.2, 1993.1], "nice": false, "zero": false}, "axis": null}, "text": {"field": "t"}}},
        {"data": {"values": [{"b": 139.2, "v": 1915.8, "t": "break"}]}, "mark": {"type": "text", "fontSize": 15, "align": "left", "baseline": "middle", "color": "#000000"},
         "encoding": {"x": {"field": "b", "type": "quantitative", "scale": {"domain": [0, 190.5], "nice": false, "zero": false}, "axis": null}, "y": {"field": "v", "type": "quantitative", "scale": {"domain": [1903.2, 1993.1], "nice": false, "zero": false}, "axis": null}, "text": {"field": "t"}}},
        {"data": {"values": [{"b": 65.7, "v": 1968.2, "t": "1"}, {"b": 78.8, "v": 1987.6, "t": "2"}, {"b": 97.0, "v": 1916.9, "t": "3"}, {"b": 112.8, "v": 1941.3, "t": "4"}, {"b": 136.8, "v": 1904.8, "t": "5"}]}, "mark": {"type": "text", "fontSize": 14, "align": "center", "baseline": "middle", "color": "#222222"},
         "encoding": {"x": {"field": "b", "type": "quantitative", "scale": {"domain": [0, 190.5], "nice": false, "zero": false}, "axis": null}, "y": {"field": "v", "type": "quantitative", "scale": {"domain": [1903.2, 1993.1], "nice": false, "zero": false}, "axis": null}, "text": {"field": "t"}}},
        {"data": {"values": [{"b": 117.1, "v": 1910.8, "t": "A"}, {"b": 127.0, "v": 1930.8, "t": "B"}, {"b": 134.2, "v": 1905.5, "t": "C"}]}, "mark": {"type": "text", "fontSize": 15, "align": "center", "baseline": "middle", "color": "#2a2ae6"},
         "encoding": {"x": {"field": "b", "type": "quantitative", "scale": {"domain": [0, 190.5], "nice": false, "zero": false}, "axis": null}, "y": {"field": "v", "type": "quantitative", "scale": {"domain": [1903.2, 1993.1], "nice": false, "zero": false}, "axis": null}, "text": {"field": "t"}}},
        {"data": {"values": [{"b": 2.8, "v": 1991.5, "t": "$SPX (60 min) 1934.35", "k": "a"}, {"b": 0.6, "v": 1989.0, "t": "▲ BB(20,2.0) 1907.11 - 1929.21 - 1951.31", "k": "b"}, {"b": 0.6, "v": 1986.5, "t": "━ MA(10) 1937.59", "k": "c"}, {"b": 0.6, "v": 1984.1, "t": "━ MA(50) 1926.55", "k": "d"}, {"b": 0.6, "v": 1981.6, "t": "━ MA(100) 1948.61", "k": "e"}, {"b": 0.6, "v": 1979.2, "t": "━ MA(200) 1960.99", "k": "f"}]},
         "mark": {"type": "text", "font": "DejaVu Sans", "fontSize": 10.5, "align": "left", "baseline": "middle"},
         "encoding": {"x": {"field": "b", "type": "quantitative", "scale": {"domain": [0, 190.5], "nice": false, "zero": false}, "axis": null}, "y": {"field": "v", "type": "quantitative", "scale": {"domain": [1903.2, 1993.1], "nice": false, "zero": false}, "axis": null}, "text": {"field": "t"},
           "color": {"field": "k", "type": "nominal", "scale": {"domain": ["a", "b", "c", "d", "e", "f"], "range": ["#000000", "#8e989e", "#c8102e", "#0b5e0b", "#ff00ff", "#8a3ee8"]}, "legend": null}}},
        {"data": {"values": [{"v": 1960.99, "k": "p200"}, {"v": 1951.31, "k": "bb"}, {"v": 1948.61, "k": "p100"}, {"v": 1937.59, "k": "p10"}, {"v": 1934.35, "k": "last"}, {"v": 1929.21, "k": "bb"}, {"v": 1926.55, "k": "p50"}, {"v": 1907.11, "k": "bb"}]},
         "mark": {"type": "point", "shape": "M-1,0L-0.82,-0.31L1,-0.31L1,0.31L-0.82,0.31Z", "size": 1764, "filled": false, "fill": "#ffffff", "strokeWidth": 1.2, "opacity": 1, "clip": false},
         "encoding": {"x": {"datum": 194.7, "type": "quantitative", "scale": {"domain": [0, 190.5], "nice": false, "zero": false}, "axis": null}, "y": {"field": "v", "type": "quantitative", "scale": {"domain": [1903.2, 1993.1], "nice": false, "zero": false}, "axis": null},
           "stroke": {"field": "k", "type": "nominal", "scale": {"domain": ["p200", "bb", "p100", "p10", "last", "p50"], "range": ["#8a3ee8", "#8fa0a8", "#ff00ff", "#c8102e", "#000000", "#1f6b1f"]}, "legend": null}}},
        {"data": {"values": [{"v": 1960.99, "t": "1960.99"}, {"v": 1951.31, "t": "1951.31"}, {"v": 1948.61, "t": "1948.61"}, {"v": 1937.59, "t": "1937.59"}, {"v": 1934.35, "t": "1934.35"}, {"v": 1929.21, "t": "1929.21"}, {"v": 1926.55, "t": "1926.55"}, {"v": 1907.11, "t": "1907.11"}]},
         "mark": {"type": "text", "align": "left", "baseline": "middle", "font": "DejaVu Sans", "fontSize": 8.5, "color": "#000000", "clip": false},
         "encoding": {"x": {"datum": 192.0, "type": "quantitative", "scale": {"domain": [0, 190.5], "nice": false, "zero": false}, "axis": null}, "y": {"field": "v", "type": "quantitative", "scale": {"domain": [1903.2, 1993.1], "nice": false, "zero": false}, "axis": null}, "text": {"field": "t"},
           "fontWeight": {"condition": {"test": "datum.t == '1934.35'", "value": "bold"}, "value": "normal"}}}
      ]
    },
    {
      "width": 1015, "height": 145,
      "resolve": {"axis": {"x": "independent", "y": "independent"}},
      "layer": [
        {"data": {"name": "days"}, "mark": {"type": "rule", "color": "#bcbccc"}, "encoding": {"x": {"field": "b", "type": "quantitative", "scale": {"domain": [0, 190.5], "nice": false, "zero": false}, "axis": null}}},
        {"data": {"name": "weeks"}, "mark": {"type": "rule", "color": "#a2a2b6"}, "encoding": {"x": {"field": "b", "type": "quantitative", "scale": {"domain": [0, 190.5], "nice": false, "zero": false}, "axis": null}}},
        {"data": {"name": "hist"}, "mark": {"type": "bar", "size": 5.3, "fill": "#4a9dcc", "stroke": "#1f5f85", "strokeWidth": 0.8},
         "encoding": {"x": {"field": "b", "type": "quantitative", "scale": {"domain": [0, 190.5], "nice": false, "zero": false}, "axis": null},
           "y": {"field": "h", "type": "quantitative", "scale": {"domain": [-14.6, 5.6], "nice": false, "zero": false}, "axis": {"orient": "right", "title": null, "values": [-12.5, -10, -7.5, -5, -2.5, 0, 2.5], "format": ".1f", "labelExpr": "datum.value >= 0 ? '' : datum.label", "grid": true, "tickSize": 3, "labelPadding": 2}},
           "y2": {"datum": 0}}},
        {"data": {"name": "signal"}, "mark": {"type": "line", "color": "#ff0000", "strokeWidth": 1},
         "encoding": {"x": {"field": "b", "type": "quantitative", "scale": {"domain": [0, 190.5], "nice": false, "zero": false}, "axis": null}, "y": {"field": "v", "type": "quantitative", "scale": {"domain": [-14.6, 5.6], "nice": false, "zero": false}, "axis": null}}},
        {"data": {"name": "macd"}, "mark": {"type": "line", "color": "#111111", "strokeWidth": 1.8},
         "encoding": {"x": {"field": "b", "type": "quantitative", "scale": {"domain": [0, 190.5], "nice": false, "zero": false}, "axis": null}, "y": {"field": "v", "type": "quantitative", "scale": {"domain": [-14.6, 5.6], "nice": false, "zero": false}, "axis": null}}},
        {"data": {"values": [{"b": 121.8, "b2": 144.6, "v": 1.28, "v2": 4.62}]}, "mark": {"type": "rect", "color": "#9a9aa8", "xOffset": 2, "yOffset": 2},
         "encoding": {"x": {"field": "b", "type": "quantitative", "scale": {"domain": [0, 190.5], "nice": false, "zero": false}, "axis": null}, "x2": {"field": "b2"}, "y": {"field": "v", "type": "quantitative", "scale": {"domain": [-14.6, 5.6], "nice": false, "zero": false}, "axis": null}, "y2": {"field": "v2"}}},
        {"data": {"values": [{"b": 121.8, "b2": 144.6, "v": 1.28, "v2": 4.62}]}, "mark": {"type": "rect", "fill": "#ffffff", "stroke": "#8a8a8a", "strokeWidth": 1},
         "encoding": {"x": {"field": "b", "type": "quantitative", "scale": {"domain": [0, 190.5], "nice": false, "zero": false}, "axis": null}, "x2": {"field": "b2"}, "y": {"field": "v", "type": "quantitative", "scale": {"domain": [-14.6, 5.6], "nice": false, "zero": false}, "axis": null}, "y2": {"field": "v2"}}},
        {"data": {"values": [{"b": 122.3, "v": 2.95, "t": "spike floor @ 1904"}]}, "mark": {"type": "text", "fontSize": 13, "align": "left", "baseline": "middle", "color": "#000000"},
         "encoding": {"x": {"field": "b", "type": "quantitative", "scale": {"domain": [0, 190.5], "nice": false, "zero": false}, "axis": null}, "y": {"field": "v", "type": "quantitative", "scale": {"domain": [-14.6, 5.6], "nice": false, "zero": false}, "axis": null}, "text": {"field": "t"}}},
        {"data": {"values": [{"b": 0.75, "v": 4.25, "t": "━ MACD(12,26,9) 3.024", "k": "a"}, {"b": 25.1, "v": 4.25, "t": ", 2.749", "k": "b"}, {"b": 32.3, "v": 4.25, "t": ", 0.276", "k": "c"}]},
         "mark": {"type": "text", "font": "DejaVu Sans", "fontSize": 11, "align": "left", "baseline": "middle"},
         "encoding": {"x": {"field": "b", "type": "quantitative", "scale": {"domain": [0, 190.5], "nice": false, "zero": false}, "axis": null}, "y": {"field": "v", "type": "quantitative", "scale": {"domain": [-14.6, 5.6], "nice": false, "zero": false}, "axis": null}, "text": {"field": "t"},
           "color": {"field": "k", "type": "nominal", "scale": {"domain": ["a", "b", "c"], "range": ["#000000", "#ff0000", "#5aa0c8"]}, "legend": null}}},
        {"data": {"values": [{"v": 2.749, "k": "s"}, {"v": 3.024, "k": "m"}, {"v": 0.276, "k": "h"}]},
         "mark": {"type": "point", "shape": "M-1,0L-0.82,-0.31L1,-0.31L1,0.31L-0.82,0.31Z", "size": 1764, "filled": false, "fill": "#ffffff", "strokeWidth": 1.2, "opacity": 1, "clip": false},
         "encoding": {"x": {"datum": 194.7, "type": "quantitative", "scale": {"domain": [0, 190.5], "nice": false, "zero": false}, "axis": null}, "y": {"field": "v", "type": "quantitative", "scale": {"domain": [-14.6, 5.6], "nice": false, "zero": false}, "axis": null},
           "stroke": {"field": "k", "type": "nominal", "scale": {"domain": ["s", "m", "h"], "range": ["#ff0000", "#000000", "#5aa0c8"]}, "legend": null}}},
        {"data": {"values": [{"v": 3.024, "t": "3.024"}, {"v": 0.276, "t": "0.276"}]},
         "mark": {"type": "text", "align": "left", "baseline": "middle", "font": "DejaVu Sans", "fontSize": 9, "color": "#000000", "clip": false},
         "encoding": {"x": {"datum": 192.3, "type": "quantitative", "scale": {"domain": [0, 190.5], "nice": false, "zero": false}, "axis": null}, "y": {"field": "v", "type": "quantitative", "scale": {"domain": [-14.6, 5.6], "nice": false, "zero": false}, "axis": null}, "text": {"field": "t"}}}
      ]
    },
    {
      "width": 1015, "height": 144,
      "resolve": {"axis": {"x": "independent", "y": "independent"}},
      "layer": [
        {"data": {"name": "days"}, "mark": {"type": "rule", "color": "#bcbccc"},
         "encoding": {"x": {"field": "b", "type": "quantitative", "scale": {"domain": [0, 190.5], "nice": false, "zero": false},
           "axis": {"orient": "bottom", "title": null, "tickCount": 191, "labelExpr": "datum.value % 7 === 0 ? ['14','15','16','17','18','21','22','23','24','25','28','29','30','31','Aug','4','5','6','7','8','11','12','13','14','15','18','19','20'][datum.value / 7] : ''", "labelOverlap": false, "labelFlush": false, "grid": false, "ticks": true, "tickSize": 2, "tickColor": "#555555", "labelPadding": -4, "labelFontWeight": {"condition": {"test": "datum.value == 98", "value": "bold"}, "value": "normal"}}}}},
        {"data": {"name": "weeks"}, "mark": {"type": "rule", "color": "#a2a2b6"}, "encoding": {"x": {"field": "b", "type": "quantitative", "scale": {"domain": [0, 190.5], "nice": false, "zero": false}, "axis": null}}},
        {"data": {"name": "hist"}, "mark": {"type": "bar", "size": 5.3, "fill": "#4a9dcc", "stroke": "#1f5f85", "strokeWidth": 0.8},
         "encoding": {"x": {"field": "b", "type": "quantitative", "scale": {"domain": [0, 190.5], "nice": false, "zero": false}, "axis": null},
           "y": {"field": "h", "type": "quantitative", "scale": {"domain": [-3.75, 4.34], "nice": false, "zero": false}, "axis": {"orient": "right", "title": null, "values": [-3, -2, -1, 0, 1, 2, 3, 4], "format": "d", "labelExpr": "datum.value == 0 ? '' : datum.label", "grid": true, "tickSize": 3, "labelPadding": 2}},
           "y2": {"datum": 0}}},
        {"data": {"values": [{"b": 2.8, "v": 3.91, "t": "MACD(12,26,9) Hist 0.276"}]}, "mark": {"type": "text", "font": "DejaVu Sans", "fontSize": 11, "align": "left", "baseline": "middle", "color": "#111111"},
         "encoding": {"x": {"field": "b", "type": "quantitative", "scale": {"domain": [0, 190.5], "nice": false, "zero": false}, "axis": null}, "y": {"field": "v", "type": "quantitative", "scale": {"domain": [-3.75, 4.34], "nice": false, "zero": false}, "axis": null}, "text": {"field": "t"}}},
        {"data": {"values": [{"v": 0.276}]},
         "mark": {"type": "point", "shape": "M-1,0L-0.82,-0.31L1,-0.31L1,0.31L-0.82,0.31Z", "size": 1764, "filled": false, "fill": "#ffffff", "stroke": "#5aa0c8", "strokeWidth": 1.2, "opacity": 1, "clip": false},
         "encoding": {"x": {"datum": 194.7, "type": "quantitative", "scale": {"domain": [0, 190.5], "nice": false, "zero": false}, "axis": null}, "y": {"field": "v", "type": "quantitative", "scale": {"domain": [-3.75, 4.34], "nice": false, "zero": false}, "axis": null}}},
        {"data": {"values": [{"v": 0.276, "t": "0.276"}]},
         "mark": {"type": "text", "align": "left", "baseline": "middle", "font": "DejaVu Sans", "fontSize": 9, "color": "#000000", "clip": false},
         "encoding": {"x": {"datum": 192.3, "type": "quantitative", "scale": {"domain": [0, 190.5], "nice": false, "zero": false}, "axis": null}, "y": {"field": "v", "type": "quantitative", "scale": {"domain": [-3.75, 4.34], "nice": false, "zero": false}, "axis": null}, "text": {"field": "t"}}}
      ]
    }
  ]
}
